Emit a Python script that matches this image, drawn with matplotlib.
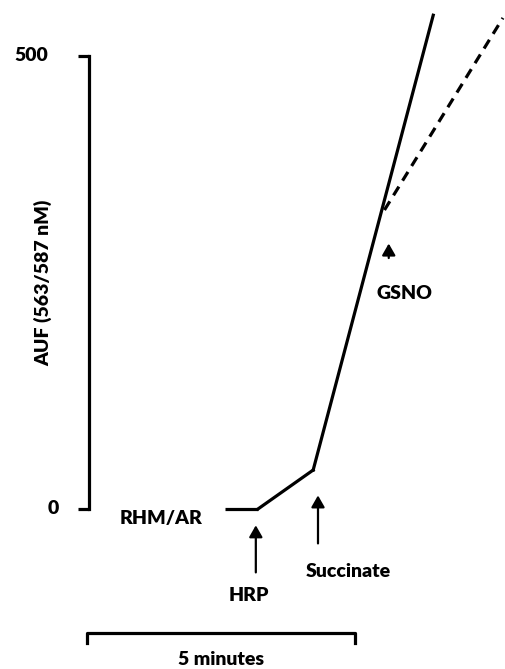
import matplotlib.pyplot as plt

# Fluorescence trace (AUF) vs time in minutes
base_t = [2.57, 3.19]
base_auf = [0, 0]
hrp_t = [3.19, 4.22]
hrp_auf = [0, 43]
succ_t = [4.22, 6.46]
succ_auf = [43, 545]
gsno_t = [5.55, 7.76]
gsno_auf = [330, 542]

y_ticks = [0, 500]
y_tick_labels = ["0", "500"]

# Additions: (label, time, arrow tip, arrow tail, text position)
additions = [
    ("HRP", 3.15, -18, -70, (3.02, -95)),
    ("Succinate", 4.31, 15, -38, (4.87, -69)),
    ("GSNO", 5.63, 293, 277, (5.92, 238)),
]

plt.rcParams['font.family'] = ['Lato', 'DejaVu Sans']
fs = 14
fw = "heavy"

fig = plt.figure(figsize=(5.05, 6.69), dpi=100)
ax = fig.add_axes([0, 0, 1, 1])
ax.set_xlim(-1.623, 7.799)
ax.set_ylim(-176.6, 561.8)

lw = 2.3
ax.plot(base_t, base_auf, color="black", lw=lw, solid_capstyle="butt")
ax.plot(hrp_t, hrp_auf, color="black", lw=lw)
ax.plot(succ_t, succ_auf, color="black", lw=lw)
ax.plot(gsno_t, gsno_auf, color="black", lw=lw, linestyle=(0, (3.2, 2.2)))

# y axis drawn as a bounded spine
for side in ["top", "right", "bottom"]:
    ax.spines[side].set_visible(False)
ax.spines["left"].set_position(("data", 0.04))
ax.spines["left"].set_bounds(0, 500)
ax.spines["left"].set_linewidth(2.3)
ax.set_xticks([])
ax.set_yticks(y_ticks)
ax.set_yticklabels([])
ax.tick_params(axis="y", direction="out", length=8, width=2.3)

ax.text(-1.04, 500, y_tick_labels[1], ha="center", va="center", fontsize=fs, fontweight=fw)
ax.text(-0.63, 0, y_tick_labels[0], ha="center", va="center", fontsize=fs, fontweight=fw)
ax.text(-0.82, 250, "AUF (563/587 nM)", rotation=90, ha="center", va="center",
        fontsize=fs, fontweight=fw)

ax.text(1.38, -10, "RHM/AR", ha="center", va="center", fontsize=fs, fontweight=fw)

for label, t, tip, tail, (tx, ty) in additions:
    ax.annotate("", xy=(t, tip), xytext=(t, tail),
                arrowprops=dict(arrowstyle="-|>,head_length=0.7,head_width=0.4",
                                color="black", lw=1.6, shrinkA=0, shrinkB=0))
    ax.text(tx, ty, label, ha="center", va="center", fontsize=fs, fontweight=fw)

# 5 minute scale bar
ax.plot([0, 0, 5, 5], [-148, -137, -137, -148], color="black", lw=2.3)
ax.text(2.5, -166.5, "5 minutes", ha="center", va="center", fontsize=fs, fontweight=fw)

fig.savefig("out.png", dpi=100)
